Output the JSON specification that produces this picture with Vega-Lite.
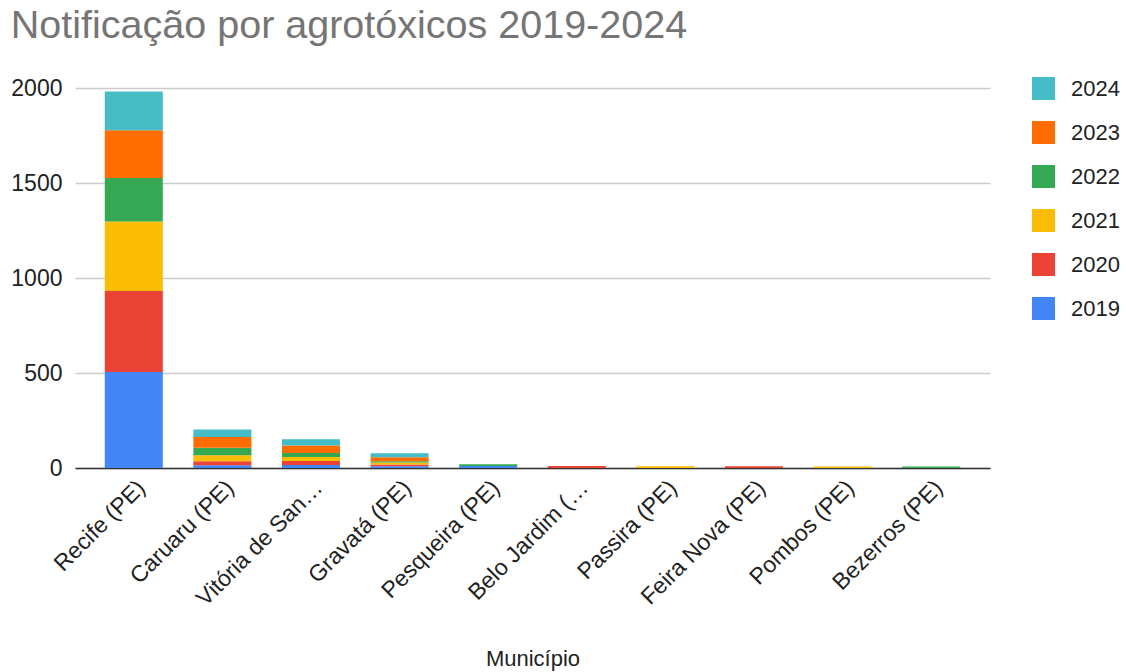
{
  "$schema": "https://vega.github.io/schema/vega-lite/v6.json",
  "autosize": "none",
  "width": 915,
  "height": 380,
  "padding": {"left": 75, "top": 88, "right": 136, "bottom": 204},
  "background": "white",
  "title": {
    "text": "Notificação por agrotóxicos 2019-2024",
    "anchor": "start",
    "frame": "bounds",
    "font": "Liberation Sans",
    "fontSize": 39.5,
    "fontWeight": "normal",
    "color": "#757575",
    "baseline": "alphabetic",
    "dx": 0,
    "offset": 0
  },
  "data": {
    "values": [
      {"municipio": "Recife (PE)", "ano": "2019", "n": 505},
      {"municipio": "Recife (PE)", "ano": "2020", "n": 426},
      {"municipio": "Recife (PE)", "ano": "2021", "n": 367},
      {"municipio": "Recife (PE)", "ano": "2022", "n": 228},
      {"municipio": "Recife (PE)", "ano": "2023", "n": 251},
      {"municipio": "Recife (PE)", "ano": "2024", "n": 205},
      {"municipio": "Caruaru (PE)", "ano": "2019", "n": 14},
      {"municipio": "Caruaru (PE)", "ano": "2020", "n": 21},
      {"municipio": "Caruaru (PE)", "ano": "2021", "n": 32},
      {"municipio": "Caruaru (PE)", "ano": "2022", "n": 40},
      {"municipio": "Caruaru (PE)", "ano": "2023", "n": 56},
      {"municipio": "Caruaru (PE)", "ano": "2024", "n": 39},
      {"municipio": "Vitória de Santo Antão (PE)", "ano": "2019", "n": 16},
      {"municipio": "Vitória de Santo Antão (PE)", "ano": "2020", "n": 21},
      {"municipio": "Vitória de Santo Antão (PE)", "ano": "2021", "n": 21},
      {"municipio": "Vitória de Santo Antão (PE)", "ano": "2022", "n": 21},
      {"municipio": "Vitória de Santo Antão (PE)", "ano": "2023", "n": 40},
      {"municipio": "Vitória de Santo Antão (PE)", "ano": "2024", "n": 32},
      {"municipio": "Gravatá (PE)", "ano": "2019", "n": 9},
      {"municipio": "Gravatá (PE)", "ano": "2020", "n": 10},
      {"municipio": "Gravatá (PE)", "ano": "2021", "n": 10},
      {"municipio": "Gravatá (PE)", "ano": "2022", "n": 7},
      {"municipio": "Gravatá (PE)", "ano": "2023", "n": 21},
      {"municipio": "Gravatá (PE)", "ano": "2024", "n": 21},
      {"municipio": "Pesqueira (PE)", "ano": "2019", "n": 10},
      {"municipio": "Pesqueira (PE)", "ano": "2022", "n": 10},
      {"municipio": "Belo Jardim (PE)", "ano": "2020", "n": 10},
      {"municipio": "Passira (PE)", "ano": "2021", "n": 9},
      {"municipio": "Feira Nova (PE)", "ano": "2020", "n": 9},
      {"municipio": "Pombos (PE)", "ano": "2021", "n": 8},
      {"municipio": "Bezerros (PE)", "ano": "2022", "n": 8}
    ]
  },
  "mark": {"type": "bar"},
  "encoding": {
    "x": {
      "field": "municipio",
      "type": "nominal",
      "sort": ["Recife (PE)", "Caruaru (PE)", "Vitória de Santo Antão (PE)", "Gravatá (PE)", "Pesqueira (PE)", "Belo Jardim (PE)", "Passira (PE)", "Feira Nova (PE)", "Pombos (PE)", "Bezerros (PE)"],
      "scale": {"paddingInner": 0.345, "paddingOuter": 0.336},
      "title": "Município",
      "axis": {
        "zindex": 0,
        "labelAngle": -45,
        "labelExpr": "datum.label == 'Vitória de Santo Antão (PE)' ? 'Vitória de San…' : datum.label == 'Belo Jardim (PE)' ? 'Belo Jardim (…' : datum.label",
        "labelFont": "Liberation Sans",
        "labelFontSize": 23,
        "labelColor": "#222222",
        "labelPadding": 8,
        "labelLimit": 300,
        "ticks": false,
        "domainColor": "#333333",
        "domainWidth": 1.5,
        "titleFont": "Liberation Sans",
        "titleFontSize": 22,
        "titleFontWeight": "normal",
        "titleColor": "#222222",
        "titlePadding": 38
      }
    },
    "y": {
      "aggregate": "sum",
      "field": "n",
      "type": "quantitative",
      "stack": "zero",
      "scale": {"domain": [0, 2000], "nice": false},
      "title": null,
      "axis": {
        "values": [0, 500, 1000, 1500, 2000],
        "format": "d",
        "labelFont": "Liberation Sans",
        "labelFontSize": 23,
        "labelColor": "#222222",
        "labelPadding": 13,
        "ticks": false,
        "domain": false,
        "gridColor": "#cccccc",
        "gridWidth": 1.3
      }
    },
    "color": {
      "field": "ano",
      "type": "nominal",
      "scale": {
        "domain": ["2024", "2023", "2022", "2021", "2020", "2019"],
        "range": ["#46BDC6", "#FF6D01", "#34A853", "#FBBC04", "#EA4335", "#4285F4"]
      },
      "legend": {
        "title": null,
        "orient": "none",
        "legendX": 957,
        "legendY": -11,
        "padding": 0,
        "symbolType": "square",
        "symbolSize": 529,
        "symbolStrokeWidth": 0,
        "symbolOpacity": 1,
        "labelFont": "Liberation Sans",
        "labelFontSize": 22,
        "labelColor": "#222222",
        "labelOffset": 16,
        "rowPadding": 21
      }
    },
    "order": {"field": "ano", "type": "ordinal", "sort": "ascending"}
  },
  "config": {
    "view": {"stroke": null}
  }
}
